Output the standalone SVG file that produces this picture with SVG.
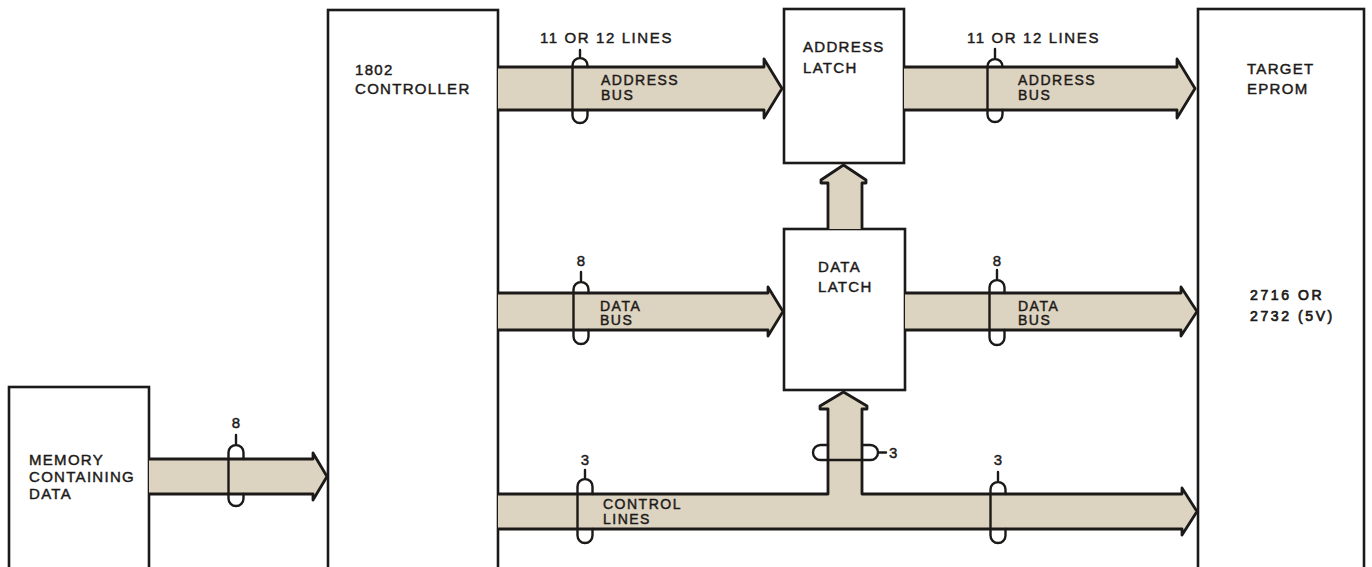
<svg xmlns="http://www.w3.org/2000/svg" width="1372" height="567" viewBox="0 0 1372 567">
<style>
.box{fill:#fff;stroke:#1c1a18;stroke-width:2.6}
.band{fill:#dcd3c0;stroke:none}
.edge{fill:none;stroke:#1c1a18;stroke-width:2.8;stroke-linejoin:round}
.clip{fill:none;stroke:#1c1a18;stroke-width:2.4;stroke-linecap:round}
text{font-family:"Liberation Sans",Arial,sans-serif;fill:#1c1a18;stroke:#1c1a18;stroke-width:0.45}
.bt{font-size:15px;letter-spacing:1.3px}
.lt{font-size:14px;letter-spacing:1.5px}
.nt{font-size:15px}
.tt{font-size:14px;letter-spacing:2.6px;stroke-width:0.7}
</style>
<rect width="1372" height="567" fill="#fff"/>

<g id="memory">
<rect class="box" x="9" y="387" width="140" height="186"/>
<text class="bt" x="29" y="465">MEMORY</text>
<text class="bt" x="29" y="482">CONTAINING</text>
<text class="bt" x="29" y="499">DATA</text>
</g>

<g id="controller">
<rect class="box" x="328" y="10" width="170" height="563"/>
<text class="bt" x="355" y="75">1802</text>
<text class="bt" x="355" y="94">CONTROLLER</text>
</g>

<g id="address-latch">
<rect class="box" x="784" y="9" width="120" height="154"/>
<text class="bt" x="803" y="52">ADDRESS</text>
<text class="bt" x="803" y="73">LATCH</text>
</g>

<g id="data-latch">
<rect class="box" x="784" y="229" width="121" height="161"/>
<text class="bt" x="818" y="272">DATA</text>
<text class="bt" x="818" y="292">LATCH</text>
</g>

<g id="target-eprom">
<rect class="box" x="1198" y="9" width="166" height="564"/>
<text class="bt" x="1247" y="74">TARGET</text>
<text class="bt" x="1247" y="94">EPROM</text>
<text class="tt" x="1250" y="300">2716 OR</text>
<text class="tt" x="1250" y="321">2732 (5V)</text>
</g>

<g id="connectors">
<!-- memory data bus -->
<path class="band" d="M149,459 H313 V453 L327,476.5 L313,500 V494 H149 Z"/>
<path class="edge" d="M149,459 H313 V453 L327,476.5 L313,500 V494 H149"/>
<path class="clip" d="M228.5,498.5 V452.5 A7.5,7.5 0 0 1 243.5,452.5 V459 M243.5,494 V498.5 A7.5,7.5 0 0 1 228.5,498.5 M236,445 V435"/>
<text class="nt" x="236" y="428" text-anchor="middle">8</text>

<!-- left address bus -->
<path class="band" d="M498,67 H764 V59 L782,88.5 L764,118 V110 H498 Z"/>
<path class="edge" d="M498,67 H764 V59 L782,88.5 L764,118 V110 H498"/>
<path class="clip" d="M572.5,115.5 V65.5 A7.5,7.5 0 0 1 587.5,65.5 V67 M587.5,110 V115.5 A7.5,7.5 0 0 1 572.5,115.5 M580,58 V50"/>
<text class="bt" x="540" y="43" style="letter-spacing:1.6px">11 OR 12 LINES</text>
<text class="lt" x="601" y="85">ADDRESS</text>
<text class="lt" x="601" y="100">BUS</text>

<!-- right address bus -->
<path class="band" d="M904,67 H1177 V59 L1195,88.5 L1177,118 V110 H904 Z"/>
<path class="edge" d="M904,67 H1177 V59 L1195,88.5 L1177,118 V110 H904"/>
<path class="clip" d="M987.5,114.5 V66.5 A7.5,7.5 0 0 1 1002.5,66.5 V67 M1002.5,110 V114.5 A7.5,7.5 0 0 1 987.5,114.5 M995,59 V49"/>
<text class="bt" x="967" y="43" style="letter-spacing:1.6px">11 OR 12 LINES</text>
<text class="lt" x="1018" y="85">ADDRESS</text>
<text class="lt" x="1018" y="100">BUS</text>

<!-- left data bus -->
<path class="band" d="M498,293 H768 V287 L783,311.5 L768,336 V330 H498 Z"/>
<path class="edge" d="M498,293 H768 V287 L783,311.5 L768,336 V330 H498"/>
<path class="clip" d="M573.5,336.5 V289.5 A7.5,7.5 0 0 1 588.5,289.5 V293 M588.5,330 V336.5 A7.5,7.5 0 0 1 573.5,336.5 M581,282 V272"/>
<text class="nt" x="581" y="266" text-anchor="middle">8</text>
<text class="lt" x="600" y="311">DATA</text>
<text class="lt" x="600" y="325">BUS</text>

<!-- right data bus -->
<path class="band" d="M905,293 H1181 V287 L1197,311.5 L1181,336 V330 H905 Z"/>
<path class="edge" d="M905,293 H1181 V287 L1197,311.5 L1181,336 V330 H905"/>
<path class="clip" d="M989.5,337.5 V287.5 A7.5,7.5 0 0 1 1004.5,287.5 V293 M1004.5,330 V337.5 A7.5,7.5 0 0 1 989.5,337.5 M997,280 V270"/>
<text class="nt" x="997" y="266" text-anchor="middle">8</text>
<text class="lt" x="1018" y="311">DATA</text>
<text class="lt" x="1018" y="325">BUS</text>

<!-- data latch to address latch -->
<path class="band" d="M828,229 V183 H821 V180 L843.5,165 L866,180 V183 H862 V229 Z"/>
<path class="edge" d="M828,229 V183 H821 V180 L843.5,165 L866,180 V183 H862 V229"/>

<!-- control lines with branch -->
<path class="band" d="M498,494 H828 V409 H820 V406 L843.5,392 L867,406 V409 H862 V494 H1182 V488 L1197,511.5 L1182,535 V529 H498 Z"/>
<path class="edge" d="M498,494 H828 V409 H820 V406 L843.5,392 L867,406 V409 H862 V494 H1182 V488 L1197,511.5 L1182,535 V529 H498"/>
<path class="clip" d="M577.5,535.5 V486.5 A7.5,7.5 0 0 1 592.5,486.5 V494 M592.5,529 V535.5 A7.5,7.5 0 0 1 577.5,535.5 M585,479 V470"/>
<text class="nt" x="585" y="465" text-anchor="middle">3</text>
<text class="lt" x="603" y="509">CONTROL</text>
<text class="lt" x="603" y="524">LINES</text>
<path class="clip" d="M990.5,535.5 V489.5 A7.5,7.5 0 0 1 1005.5,489.5 V494 M1005.5,529 V535.5 A7.5,7.5 0 0 1 990.5,535.5 M998,482 V472"/>
<text class="nt" x="998" y="465" text-anchor="middle">3</text>
<path class="clip" d="M828,445 H820.5 A7.5,7.5 0 0 0 820.5,460 H870.5 A7.5,7.5 0 0 0 870.5,445 H862 M878,452.5 H886"/>
<text class="nt" x="889" y="458">3</text>
</g>
</svg>
